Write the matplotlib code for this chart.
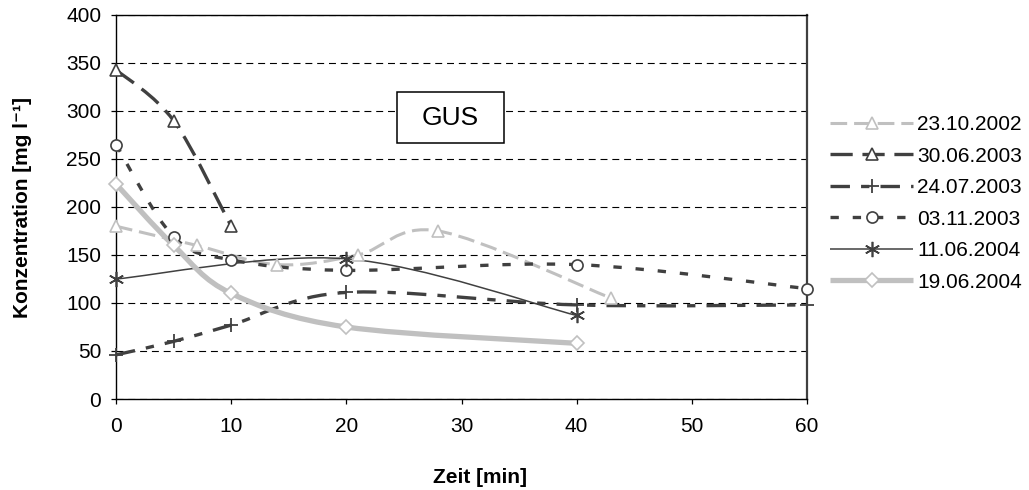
import numpy as np
import matplotlib
matplotlib.use("Agg")
import matplotlib.pyplot as plt
from matplotlib.path import Path
from matplotlib.patches import PathPatch, Rectangle
from matplotlib.lines import Line2D

plt.rcParams["font.family"] = ["Liberation Sans", "DejaVu Sans"]
plt.rcParams["lines.scale_dashes"] = False

DARK = "#404040"
LIGHT = "#C0C0C0"

# measured GUS concentrations (mg/l) over time (min), one list pair per sampling day
t_231002 = [0, 7, 14, 21, 28, 43]
c_231002 = [180, 160, 140, 150, 175, 105]
t_300603 = [0, 5, 10]
c_300603 = [343, 290, 180]
t_240703 = [0, 5, 10, 20, 40, 60]
c_240703 = [46, 60, 77, 111, 98, 98]
t_031103 = [0, 5, 10, 20, 40, 60]
c_031103 = [265, 169, 145, 134, 140, 115]
t_110604 = [0, 20, 40]
c_110604 = [125, 146, 87]
t_190604 = [0, 5, 10, 20, 40]
c_190604 = [224, 160, 110, 75, 58]

dates = ["23.10.2002", "30.06.2003", "24.07.2003", "03.11.2003", "11.06.2004", "19.06.2004"]
x_ticks = [0, 10, 20, 30, 40, 50, 60]
y_ticks = [0, 50, 100, 150, 200, 250, 300, 350, 400]

series = [
    (t_231002, c_231002, dict(color=LIGHT, lw=2.2, dashes=(12, 5), marker="^", ms=9, mfc="white", mec=LIGHT, mew=1.2)),
    (t_300603, c_300603, dict(color=DARK, lw=2.4, dashes=(16, 7), marker="^", ms=9, mfc="white", mec=DARK, mew=1.2)),
    (t_240703, c_240703, dict(color=DARK, lw=2.4, dashes=(14, 8, 6, 8), marker="+", ms=10, mfc=DARK, mec=DARK, mew=1.3)),
    (t_031103, c_031103, dict(color=DARK, lw=2.4, dashes=(6, 10), marker="o", ms=8, mfc="white", mec=DARK, mew=1.2)),
    (t_110604, c_110604, dict(color=DARK, lw=1.1, dashes=None, marker=(6, 2, 0), ms=11, mfc=DARK, mec=DARK, mew=1.2)),
    (t_190604, c_190604, dict(color=LIGHT, lw=3.8, dashes=None, marker="D", ms=7, mfc="white", mec=LIGHT, mew=1.2)),
]


def smooth_path(x, y):
    # Catmull-Rom style cubic Bezier through the points (spreadsheet "smoothed line")
    p = np.column_stack([x, y]).astype(float)
    ext = np.vstack([p[0], p, p[-1]])
    verts, codes = [p[0]], [Path.MOVETO]
    for i in range(len(p) - 1):
        a, b, c, d = ext[i], ext[i + 1], ext[i + 2], ext[i + 3]
        verts += [b + (c - a) / 6, c - (d - b) / 6, c]
        codes += [Path.CURVE4] * 3
    return Path(verts, codes)


fig = plt.figure(figsize=(10.29, 4.90), dpi=100)
ax = fig.add_axes([116 / 1029, 1 - 399 / 490, 691 / 1029, 384 / 490])
ax.set_xlim(0, 60)
ax.set_ylim(0, 400)
ax.set_xticks(x_ticks)
ax.set_yticks(y_ticks)
ax.tick_params(direction="out", length=3.6, width=0.9, labelsize=15, colors="black")
ax.tick_params(axis="y", pad=7)
ax.tick_params(axis="x", pad=9)
for side in ("left", "bottom", "top"):
    ax.spines[side].set_color("black")
    ax.spines[side].set_linewidth(1.0)
ax.spines["right"].set_color(DARK)
ax.spines["right"].set_linewidth(1.6)
ax.yaxis.grid(True, color="black", lw=0.8, linestyle=(0, (5, 3.5)), zorder=0)
ax.set_axisbelow(True)

handles = []
for (t, c, st), name in zip(series, dates):
    ls = "-" if st["dashes"] is None else (0, st["dashes"])
    ax.add_patch(PathPatch(smooth_path(t, c), fill=False, edgecolor=st["color"],
                           lw=st["lw"], linestyle=ls, capstyle="butt", zorder=3))
    ax.plot(t, c, linestyle="none", marker=st["marker"], ms=st["ms"], mfc=st["mfc"],
            mec=st["mec"], mew=st["mew"], zorder=4, clip_on=False)
    handles.append(Line2D([0], [0], color=st["color"], lw=st["lw"], linestyle=ls,
                          marker=st["marker"], ms=st["ms"], mfc=st["mfc"], mec=st["mec"],
                          mew=st["mew"], label=name, solid_capstyle="butt", dash_capstyle="butt"))

# title box inside the plot area
ax.add_patch(Rectangle((0.406, 0.667), 0.155, 0.132, transform=ax.transAxes,
                       facecolor="white", edgecolor="black", lw=1.1, zorder=5))
ax.text(0.4835, 0.733, "GUS", transform=ax.transAxes, fontsize=19,
        ha="center", va="center", zorder=6)

fig.legend(handles=handles, loc="upper left", bbox_to_anchor=(830 / 1029, 1 - 115 / 490),
           frameon=False, fontsize=15, handlelength=4.0, handletextpad=0.2,
           labelspacing=0.6, borderpad=0, borderaxespad=0, numpoints=1)

fig.text(480 / 1029, 1 - 477 / 490, "Zeit [min]", fontsize=15, weight="bold",
         ha="center", va="center")
fig.text(23 / 1029, 1 - 207 / 490, "Konzentration [mg l⁻¹]", fontsize=15, weight="bold",
         ha="center", va="center", rotation=90)

fig.savefig("out.png", dpi=100, facecolor="white")
